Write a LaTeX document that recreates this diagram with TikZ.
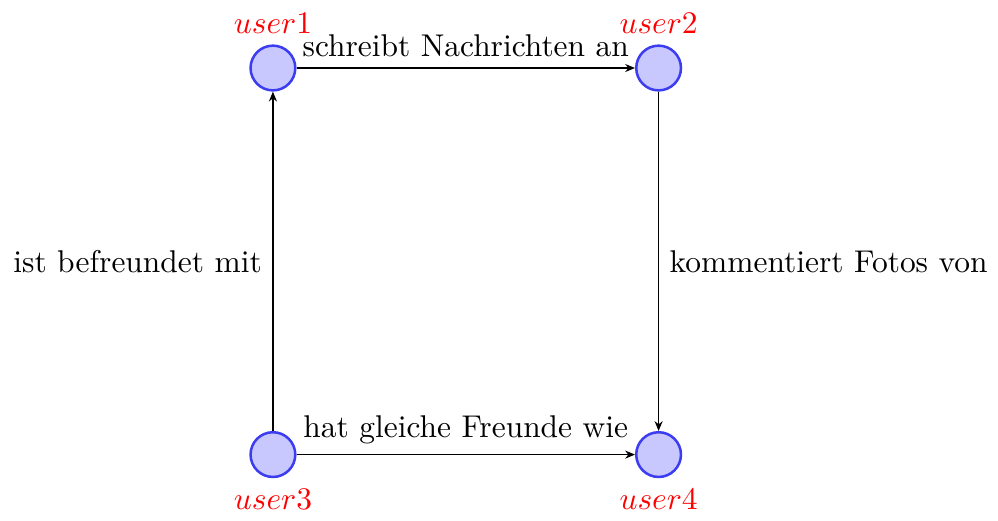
\documentclass[tikz,border=0pt]{standalone}
\usepackage{xcolor}
\usepackage{tikz}
\usetikzlibrary{positioning,arrows.meta}
\definecolor{usrline}{RGB}{60,60,240}
\definecolor{usrfill}{RGB}{200,200,255}
\newcommand{\usr}[1]{\textcolor{red}{$user#1$}}
\tikzset{
  usernode/.style ={circle, draw=usrline, fill=usrfill, thick,
                    minimum size=0.5cm, inner sep=0pt},
  rel/.style      ={-{Stealth[length=1.1mm,width=0.9mm]}, draw=black},
}
\begin{document}
\begin{tikzpicture}[node distance=4.32cm and 4.31cm, on grid]
  \node[usernode, label=above:\usr{1}] (u1) {};
  \node[usernode, label=above:\usr{2}, right=of u1] (u2) {};
  \node[usernode, label=below:\usr{3}, below=of u1] (u3) {};
  \node[usernode, label=below:\usr{4}, right=of u3] (u4) {};
  \draw[rel] (u1) -- node[above] {schreibt Nachrichten an} (u2);
  \draw[rel] (u2) -- node[right] {kommentiert Fotos von} (u4);
  \draw[rel] (u3) -- node[left] {ist befreundet mit} (u1);
  \draw[rel] (u3) -- node[above] {hat gleiche Freunde wie} (u4);
  \useasboundingbox (-3.05,-4.99) rectangle (8.06,0.76);
\end{tikzpicture}
\end{document}
